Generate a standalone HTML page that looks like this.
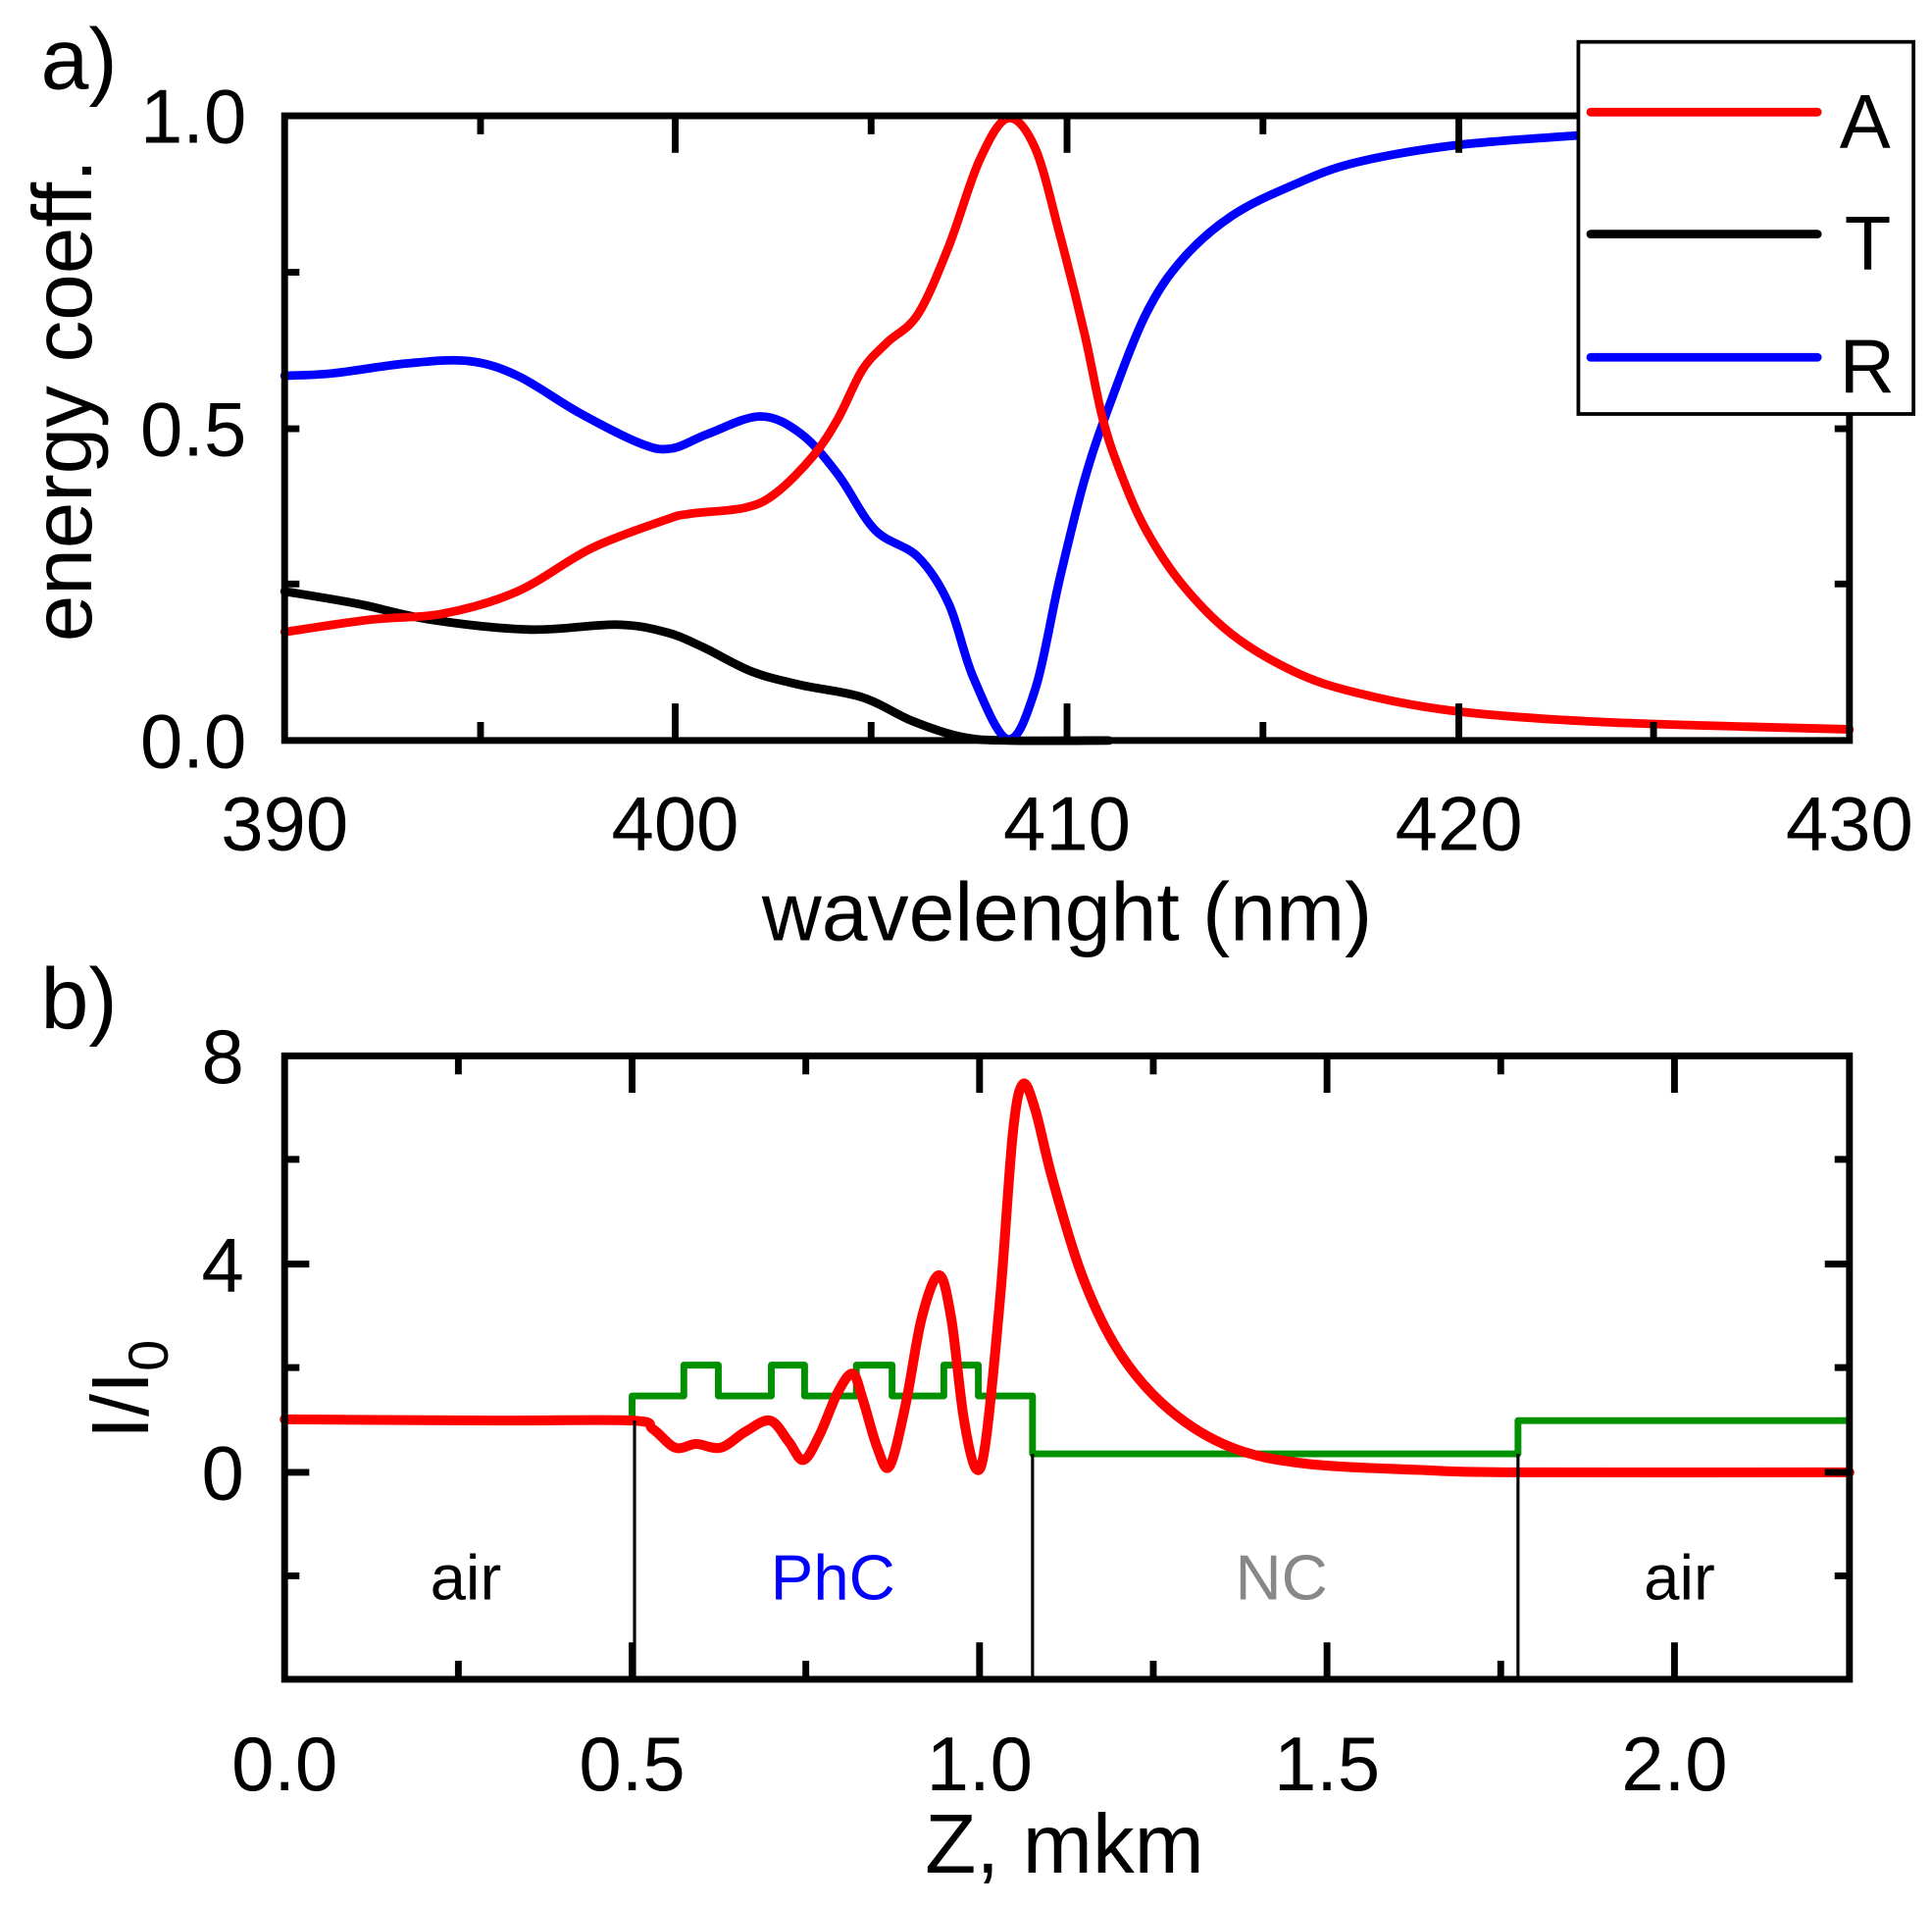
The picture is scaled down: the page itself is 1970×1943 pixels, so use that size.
<!DOCTYPE html>
<html><head><meta charset="utf-8"><style>
html,body{margin:0;padding:0;background:#fff;}
svg{display:block;}
text{font-family:"Liberation Sans",Arial,sans-serif;}
</style></head><body>
<svg width="1970" height="1943" viewBox="0 0 1568 1547" preserveAspectRatio="none" xmlns="http://www.w3.org/2000/svg">
<!-- Panel a -->
<g fill="none" stroke-linejoin="round" stroke-linecap="round">
<polyline class="sm" stroke="#000" stroke-width="7" points="231,480 290,490 350,503 430,511 500,507 540,513 570,525 610,545 650,556 700,566 740,585 780,598 818,601 900,601"/>
<polyline class="sm" stroke="#00f" stroke-width="7" points="231,305 270,303 330,295 380,293 420,305 470,335 520,360 545,364 575,352 617,338 650,352 680,385 710,430 745,452 770,490 790,550 818,600 840,560 860,470 880,390 900,330 930,255 960,210 1000,175 1050,150 1100,132 1180,118 1280,110"/>
<polyline class="sm" stroke="#f00" stroke-width="7" points="231,513 300,503 360,498 420,480 480,445 540,422 560,417 605,412 630,400 660,370 680,340 700,300 720,278 745,255 770,200 795,130 818,96 840,120 860,190 880,270 895,340 910,385 930,430 960,475 1000,515 1050,545 1100,562 1180,577 1300,586 1501,592"/>
</g>
<g stroke="#000" stroke-width="5.5" fill="none">
<rect x="231" y="94" width="1270" height="507"/>
<path d="M390,94v15M390,601v-15M548,94v30M548,601v-30M707,94v15M707,601v-15M866,94v30M866,601v-30M1025,94v15M1025,601v-15M1184,94v30M1184,601v-30M1342,94v15M1342,601v-15
M231,221h12M1501,221h-12M231,348h12M1501,348h-12M231,474h12M1501,474h-12"/>
</g>
<rect x="1281" y="34" width="272" height="302" fill="#fff" stroke="#000" stroke-width="3"/>
<g stroke-width="7" stroke-linecap="round">
<line x1="1291" y1="91" x2="1475" y2="91" stroke="#f00"/>
<line x1="1291" y1="190" x2="1475" y2="190" stroke="#000"/>
<line x1="1291" y1="290" x2="1475" y2="290" stroke="#00f"/>
</g>
<g font-size="62" fill="#000">
<text x="1493" y="120">A</text>
<text x="1497" y="219">T</text>
<text x="1493" y="319">R</text>
<text x="33" y="72" font-size="70">a)</text>
</g>
<g font-size="62" fill="#000" text-anchor="end">
<text x="200" y="116">1.0</text>
<text x="200" y="370">0.5</text>
<text x="200" y="623">0.0</text>
</g>
<g font-size="62" fill="#000" text-anchor="middle">
<text x="231" y="690">390</text>
<text x="548" y="690">400</text>
<text x="866" y="690">410</text>
<text x="1184" y="690">420</text>
<text x="1501" y="690">430</text>
<text x="866" y="763" font-size="67">wavelenght (nm)</text>
<text transform="translate(74,325) rotate(-90)" font-size="68" x="0" y="0">energy coeff.</text>
</g>
<!-- Panel b -->
<g fill="none" stroke-linejoin="round">
<polyline stroke="#009000" stroke-width="5.5" points="513,1153 513,1133 555,1133 555,1108 583,1108 583,1133 626,1133 626,1108 653,1108 653,1133 695,1133 695,1108 724,1108 724,1133 766,1133 766,1108 794,1108 794,1133 838,1133 838,1180 1232,1180 1232,1153 1501,1153"/>
<polyline class="sm" stroke="#f00" stroke-width="8" stroke-linecap="round" points="231,1152 400,1153 513,1153 530,1160 548,1175 565,1172 585,1175 605,1162 625,1153 640,1170 652,1185 665,1165 680,1130 692,1115 700,1135 712,1175 722,1190 735,1140 748,1070 762,1035 772,1070 782,1150 792,1192 800,1170 812,1050 822,920 830,880 840,900 855,960 880,1040 910,1100 950,1145 1000,1175 1060,1188 1150,1193 1232,1195 1501,1195"/>
</g>
<g stroke="#000" stroke-width="2.5">
<line x1="515" y1="1153" x2="515" y2="1363"/>
<line x1="838" y1="1180" x2="838" y2="1363"/>
<line x1="1232" y1="1180" x2="1232" y2="1363"/>
</g>
<g stroke="#000" stroke-width="5.5" fill="none">
<rect x="231" y="857" width="1270" height="506"/>
<path d="M372,857v15M372,1363v-15M513,857v30M513,1363v-30M654,857v15M654,1363v-15M795,857v30M795,1363v-30M936,857v15M936,1363v-15M1077,857v30M1077,1363v-30M1218,857v15M1218,1363v-15M1359,857v30M1359,1363v-30
M231,941h12M1501,941h-12M231,1026h20M1501,1026h-20M231,1110h12M1501,1110h-12M231,1195h20M1501,1195h-20M231,1279h12M1501,1279h-12"/>
</g>
<g font-size="52" text-anchor="middle">
<text x="378" y="1298" fill="#000">air</text>
<text x="676" y="1298" fill="#00f">PhC</text>
<text x="1040" y="1298" fill="#888">NC</text>
<text x="1363" y="1298" fill="#000">air</text>
</g>
<g font-size="62" fill="#000" text-anchor="end">
<text x="198" y="879">8</text>
<text x="198" y="1048">4</text>
<text x="198" y="1217">0</text>
</g>
<g font-size="62" fill="#000" text-anchor="middle">
<text x="231" y="1453">0.0</text>
<text x="513" y="1453">0.5</text>
<text x="795" y="1453">1.0</text>
<text x="1077" y="1453">1.5</text>
<text x="1359" y="1453">2.0</text>
<text x="864" y="1520" font-size="68">Z, mkm</text>
</g>
<text x="33" y="835" font-size="70" fill="#000">b)</text>
<text transform="translate(120,1168) rotate(-90)" font-size="66" fill="#000">I/I<tspan font-size="46" dy="16">0</tspan></text>
</svg>
<script>
document.querySelectorAll('polyline.sm').forEach(function(pl){
  var p=pl.getAttribute('points').trim().split(/\s+/).map(function(s){return s.split(',').map(Number);});
  var d='M'+p[0][0]+','+p[0][1];
  for(var i=0;i<p.length-1;i++){
    var p0=p[i-1]||p[i],p1=p[i],p2=p[i+1],p3=p[i+2]||p2;
    var c1x=p1[0]+(p2[0]-p0[0])/6,c1y=p1[1]+(p2[1]-p0[1])/6;
    var c2x=p2[0]-(p3[0]-p1[0])/6,c2y=p2[1]-(p3[1]-p1[1])/6;
    d+=' C'+c1x+','+c1y+' '+c2x+','+c2y+' '+p2[0]+','+p2[1];
  }
  var path=document.createElementNS('http://www.w3.org/2000/svg','path');
  ['stroke','stroke-width'].forEach(function(a){if(pl.getAttribute(a))path.setAttribute(a,pl.getAttribute(a));});
  path.setAttribute('fill','none');path.setAttribute('stroke-linejoin','round');path.setAttribute('stroke-linecap','round');
  path.setAttribute('d',d);
  pl.parentNode.replaceChild(path,pl);
});
</script>
</body></html>
